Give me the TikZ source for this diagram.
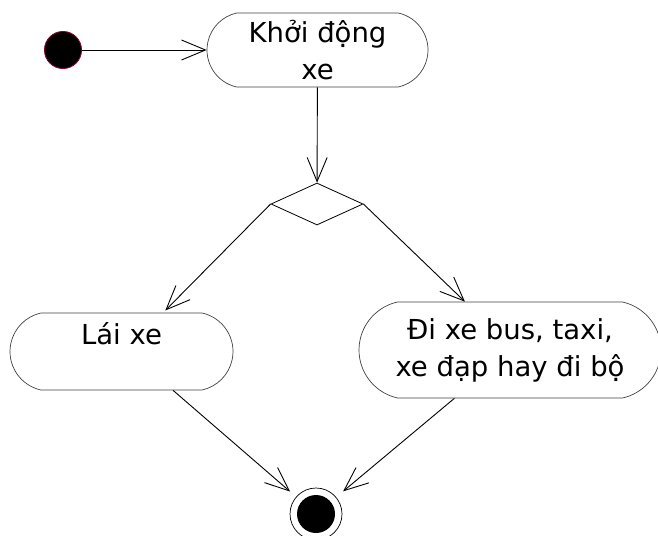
\documentclass[tikz,border=0pt]{standalone}
\usepackage{fontspec}
\setmainfont{DejaVu Sans}
\usetikzlibrary{arrows.meta, shapes.geometric, shapes.misc}
\definecolor{dotrim}{RGB}{128,0,48}
\begin{document}
\begin{tikzpicture}[
  x=1pt, y=-1pt,
  activity/.style={rounded rectangle, rounded rectangle arc length=155, draw=black!75, line width=0.7pt, inner sep=0pt, align=center, font=\fontsize{27.5}{37}\selectfont},
  decision/.style={diamond, draw, line width=0.8pt, inner sep=0pt, minimum width=92pt, minimum height=42pt},
  startdot/.style={circle, draw=dotrim, fill=black, line width=0.9pt, minimum size=37pt, inner sep=0pt},
  enddot/.style={circle, draw, line width=0.7pt, minimum size=52pt, inner sep=0pt,
    path picture={\fill (path picture bounding box.center) circle (19pt);}},
  ->, >={Straight Barb[length=24pt, width=20pt]}, line width=0.9pt
]
  \useasboundingbox (0,0) rectangle (658,535);

  \node[startdot] (begin) at (63,50) {};
  \node[activity, minimum width=221pt, minimum height=74pt] (khoi) at (317.5,50) {Khởi động\\xe};
  \node[decision] (choice) at (317,204) {};
  \node[activity, minimum width=223pt, minimum height=77pt] (lai) at (121.5,351.5) {Lái xe\\\mbox{}};
  \node[activity, minimum width=302pt, minimum height=96pt] (di) at (510,350) {Đi xe bus, taxi,\\xe đạp hay đi bộ};
  \node[enddot] (finish) at (316,514) {};

  \path (begin) edge (khoi)
        (khoi) edge (choice)
        (choice.west) edge[shorten >=3pt] (lai.43.5)
        (choice.east) edge (di.133)
        (lai.-37) edge[shorten >=8pt] (finish)
        (di.-139) edge[shorten >=9pt] (finish);
\end{tikzpicture}
\end{document}
